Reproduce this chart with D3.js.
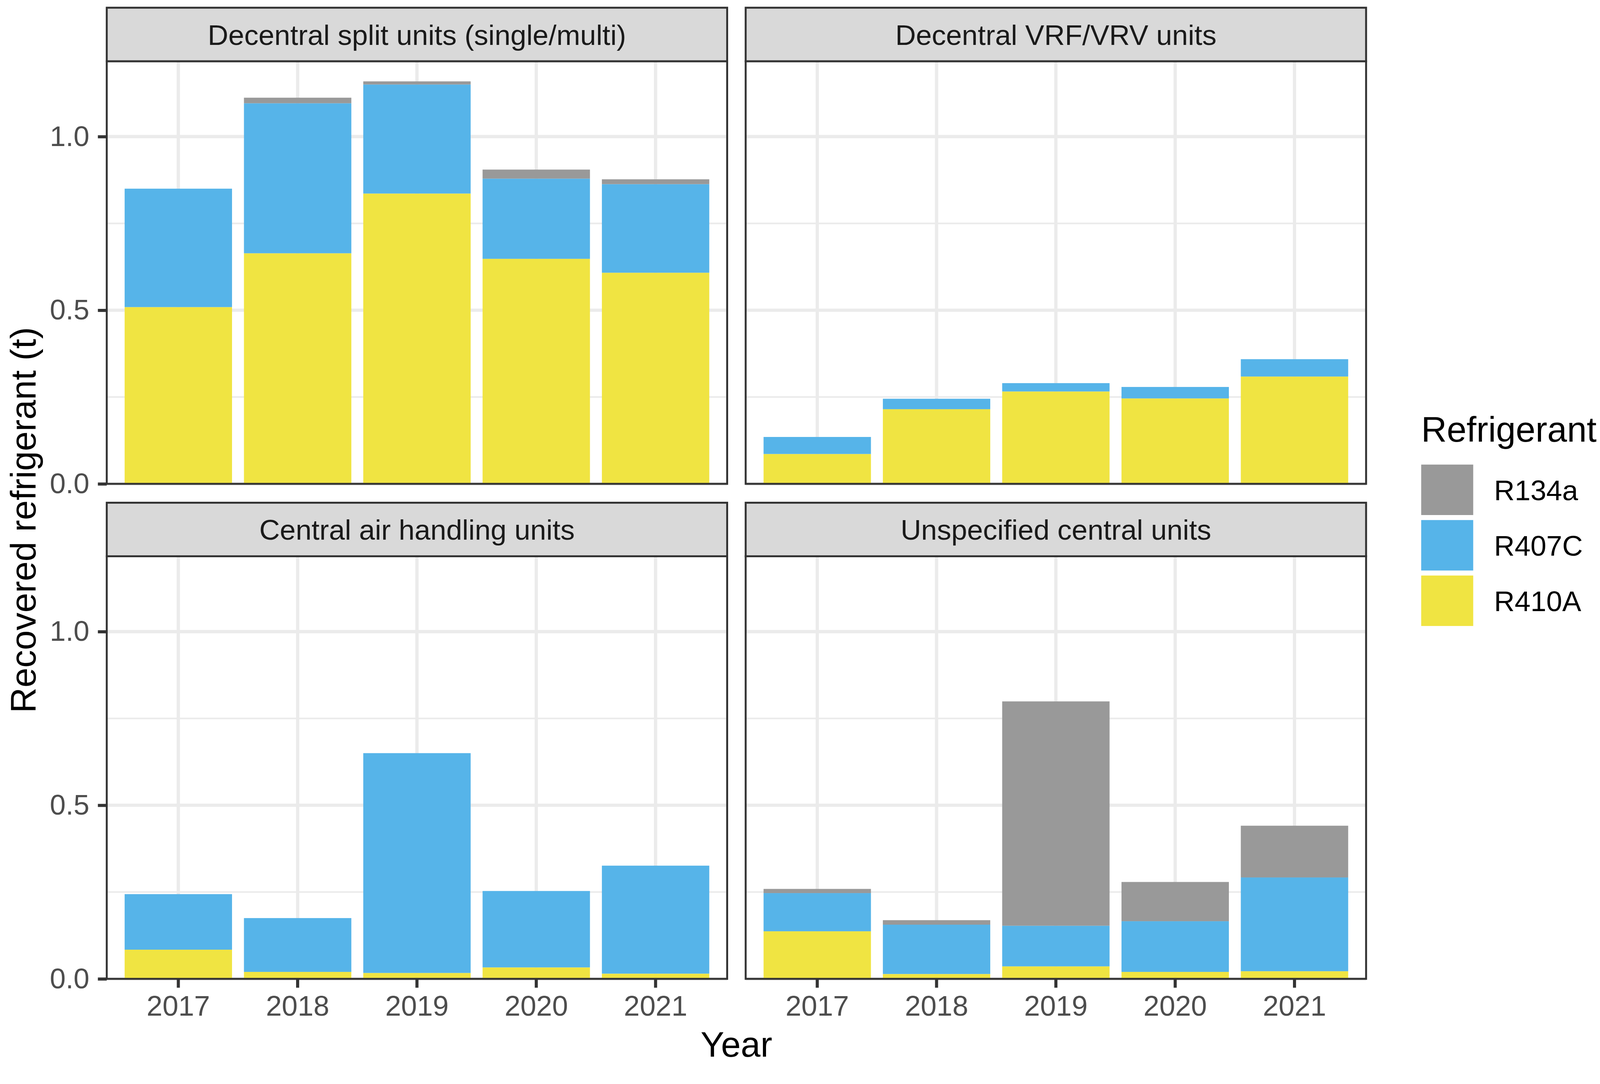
<!DOCTYPE html>
<html>
<head>
<meta charset="utf-8">
<script src="https://cdn.jsdelivr.net/npm/d3@7"></script>
<style>
  html, body { margin: 0; padding: 0; background: #fff; overflow: hidden; }
  #chart svg { display: block; }
  text { font-family: "Liberation Sans", Arial, sans-serif; }
</style>
</head>
<body>
<div id="chart"></div>
<script>
// data (tonnes)
const years = ["2017", "2018", "2019", "2020", "2021"];
const facets = [
  "Decentral split units (single/multi)",
  "Decentral VRF/VRV units",
  "Central air handling units",
  "Unspecified central units"
];
const refrigerants = ["R134a", "R407C", "R410A"];
const colours = ["#999999", "#56B4E9", "#F0E442"];

// one row per facet, one value per year
const r410a = [
  [0.509, 0.664, 0.836, 0.648, 0.608],
  [0.086, 0.215, 0.266, 0.246, 0.309],
  [0.084, 0.020, 0.017, 0.033, 0.015],
  [0.137, 0.014, 0.036, 0.020, 0.022]
];
const r407c = [
  [0.341, 0.432, 0.314, 0.231, 0.255],
  [0.049, 0.030, 0.024, 0.033, 0.050],
  [0.160, 0.155, 0.633, 0.220, 0.311],
  [0.110, 0.142, 0.117, 0.146, 0.270]
];
const r134a = [
  [0.000, 0.016, 0.009, 0.026, 0.014],
  [0.000, 0.000, 0.000, 0.000, 0.000],
  [0.000, 0.000, 0.000, 0.000, 0.000],
  [0.012, 0.013, 0.646, 0.113, 0.149]
];
const yMajor = [0, 0.5, 1.0];
const yMinor = [0.25, 0.75];

const width = 4152, height = 2776;
const colX = [277, 1935];
const panelW = 1610;
const stripTop = [20, 1305];
const stripH = 139;
const plotH = 1097;

// fit to the real viewport width, anchored top-left
const svg = d3.select('#chart').append('svg')
  .attr('viewBox', `0 0 ${width} ${height}`)
  .attr('preserveAspectRatio', 'xMinYMin meet')
  .style('width', '100vw')
  .style('height', '100vh');

svg.append('rect').attr('width', width).attr('height', height).attr('fill', '#fff');

const tables = facets.map((f, fi) => years.map((yr, i) => ({
  year: yr, R410A: r410a[fi][i], R407C: r407c[fi][i], R134a: r134a[fi][i]
})));

const stack = d3.stack().keys(["R410A", "R407C", "R134a"]);
const maxTotal = d3.max(tables, t => d3.max(t, d => d.R410A + d.R407C + d.R134a));

const x = d3.scaleBand().domain(years).range([0, panelW]).paddingInner(0.1).paddingOuter(0.15);
const y = d3.scaleLinear().domain([0, maxTotal * 1.05]).range([plotH, 0]);
const colour = d3.scaleOrdinal().domain(refrigerants).range(colours);

facets.forEach((name, fi) => {
  const col = fi % 2, row = Math.floor(fi / 2);
  const px = colX[col];
  const py = stripTop[row] + stripH;
  const g = svg.append('g').attr('transform', `translate(${px},${py})`);

  // grid
  g.selectAll('.minor').data(yMinor).enter().append('line')
    .attr('x1', 0).attr('x2', panelW)
    .attr('y1', d => y(d)).attr('y2', d => y(d))
    .attr('stroke', '#EBEBEB').attr('stroke-width', 4.3);
  g.selectAll('.major').data(yMajor).enter().append('line')
    .attr('x1', 0).attr('x2', panelW)
    .attr('y1', d => y(d)).attr('y2', d => y(d))
    .attr('stroke', '#EBEBEB').attr('stroke-width', 8.5);
  g.selectAll('.vgrid').data(years).enter().append('line')
    .attr('x1', d => x(d) + x.bandwidth() / 2).attr('x2', d => x(d) + x.bandwidth() / 2)
    .attr('y1', 0).attr('y2', plotH)
    .attr('stroke', '#EBEBEB').attr('stroke-width', 8.5);

  // bars
  const series = stack(tables[fi]);
  g.selectAll('.layer').data(series).enter().append('g')
    .attr('fill', d => colour(d.key))
    .selectAll('rect').data(d => d).enter().append('rect')
    .attr('x', d => x(d.data.year))
    .attr('width', x.bandwidth())
    .attr('y', d => y(d[1]))
    .attr('height', d => y(d[0]) - y(d[1]));

  // panel border
  g.append('rect').attr('width', panelW).attr('height', plotH)
    .attr('fill', 'none').attr('stroke', '#333333').attr('stroke-width', 5);

  // strip
  const s = svg.append('g').attr('transform', `translate(${px},${stripTop[row]})`);
  s.append('rect').attr('width', panelW).attr('height', stripH)
    .attr('fill', '#D9D9D9').attr('stroke', '#333333').attr('stroke-width', 5);
  s.append('text').attr('x', panelW / 2).attr('y', stripH / 2).attr('dy', '0.36em')
    .attr('text-anchor', 'middle').attr('font-size', 74).attr('fill', '#1A1A1A')
    .text(name);

  // axes
  if (col === 0) {
    const ay = g.append('g').call(d3.axisLeft(y).tickValues(yMajor).tickFormat(d3.format('.1f'))
      .tickSize(23).tickPadding(22));
    ay.select('.domain').remove();
    ay.selectAll('line').attr('stroke', '#333333').attr('stroke-width', 8);
    ay.selectAll('text').attr('font-size', 74).attr('fill', '#4D4D4D')
      .attr('font-family', '"Liberation Sans", Arial, sans-serif');
  }
  if (row === 1) {
    const ax = g.append('g').attr('transform', `translate(0,${plotH})`)
      .call(d3.axisBottom(x).tickSize(23).tickPadding(20));
    ax.select('.domain').remove();
    ax.selectAll('line').attr('stroke', '#333333').attr('stroke-width', 8);
    ax.selectAll('text').attr('font-size', 74).attr('fill', '#4D4D4D')
      .attr('font-family', '"Liberation Sans", Arial, sans-serif');
  }
});

// axis titles
svg.append('text')
  .attr('transform', `translate(92,${(stripTop[0] + stripH + stripTop[1] + stripH + plotH) / 2}) rotate(-90)`)
  .attr('text-anchor', 'middle').attr('font-size', 92).attr('fill', '#000')
  .text('Recovered refrigerant (t)');

svg.append('text')
  .attr('x', (colX[0] + colX[1] + panelW) / 2).attr('y', 2743)
  .attr('text-anchor', 'middle').attr('font-size', 92).attr('fill', '#000')
  .text('Year');

// legend
const legend = svg.append('g').attr('transform', 'translate(3688,1146)');
legend.append('text').attr('x', 0).attr('y', 0)
  .attr('font-size', 92).attr('fill', '#000').text('Refrigerant');
const keys = legend.selectAll('.key').data(refrigerants).enter().append('g')
  .attr('transform', (d, i) => `translate(0,${60 + i * 144})`);
keys.append('rect').attr('width', 135).attr('height', 131).attr('fill', d => colour(d));
keys.append('text').attr('x', 189).attr('y', 66).attr('dy', '0.36em')
  .attr('font-size', 74).attr('fill', '#000').text(d => d);
</script>
</body>
</html>
